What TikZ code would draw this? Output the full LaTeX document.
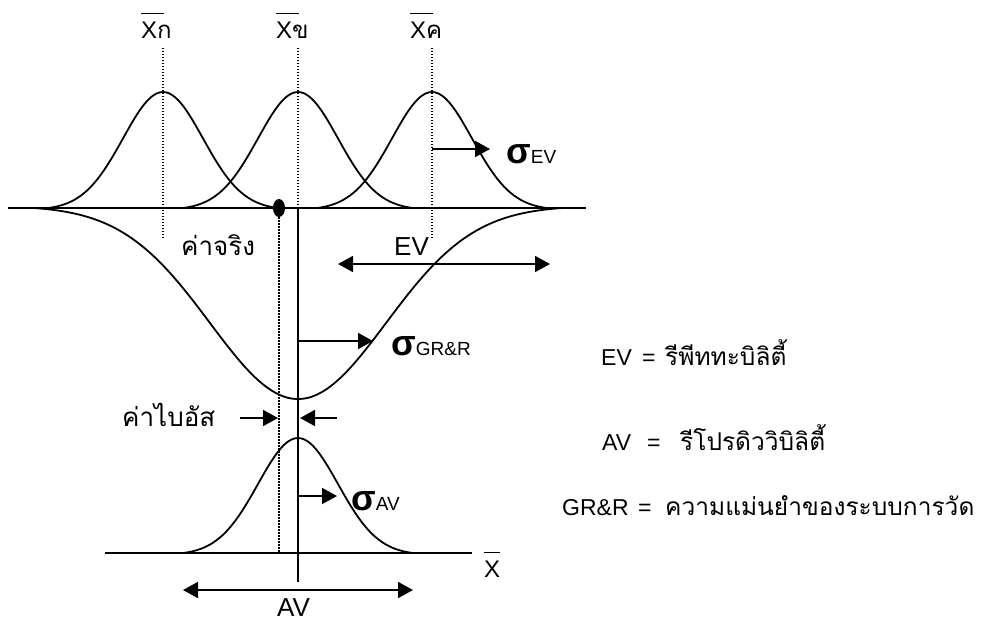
\documentclass[tikz,border=0pt]{standalone}
\usepackage{fontspec}
\setmainfont{Liberation Sans}
\newfontfamily\thai[Script=Thai]{Loma}
\usetikzlibrary{arrows.meta,shapes.geometric}
\newcommand\xbarred[1]{\leavevmode\rlap{\raisebox{1.0em}{\rule{#1}{1.4pt}}}X}
\begin{document}
\begin{tikzpicture}[x=1pt,y=-1pt,
  curve/.style={line width=1.8pt},
  axis/.style={line width=2pt},
  dots/.style={line width=1.4pt, dash pattern=on 1.4pt off 1.6pt},
  vline/.style={line width=1.8pt},
  arr/.style={line width=1.8pt,-{Triangle[length=15pt,width=16pt]}},
  darr/.style={line width=1.8pt,{Triangle[length=15pt,width=16pt]}-{Triangle[length=15pt,width=16pt]}},
  lbl/.style={inner sep=0pt, anchor=base west, font=\fontsize{26}{30}\selectfont},
  leg/.style={inner sep=0pt, anchor=base west, font=\fontsize{23}{28}\selectfont},
  legthai/.style={inner sep=0pt, anchor=base west, font=\fontsize{24.5}{30}\selectfont\thai},
  xlbl/.style={inner sep=0pt, anchor=base west, font=\fontsize{24}{28}\selectfont},
  sig/.style={inner sep=0pt, anchor=base west}]
\useasboundingbox (0,0) rectangle (981,622);
\newcommand\sigmalabel[1]{{\fontsize{36}{36}\selectfont\bfseries σ}{\fontsize{19}{19}\selectfont #1}}

% coordinates
\coordinate (topL) at (8,208);
\coordinate (topR) at (586,208);
\coordinate (botL) at (105,553);
\coordinate (botR) at (472,553);
\coordinate (d1t) at (163,48);
\coordinate (d1b) at (163,238);
\coordinate (d2t) at (298,48);
\coordinate (d2m) at (298,208);
\coordinate (d2b) at (298,582);
\coordinate (d3t) at (432,48);
\coordinate (d3b) at (432,238);
\coordinate (tb) at (279,553);

% axes
\draw[axis] (topL) -- (topR);
\draw[axis] (botL) -- (botR);

% small bell curves (top)
\foreach \c in {163,298,432}{
  \draw[curve] plot[domain=-2.875:2.875, samples=71, smooth]
    ({\c+40*\x}, {208-116*(exp(-\x*\x/2)-0.0164)/0.9836});
}
% big inverted curve
\draw[curve] plot[domain=-3:3, samples=91, smooth]
  ({298+88*\x}, {208+191*(exp(-\x*\x/2)-0.0111)/0.9889});
% bottom curve
\draw[curve] plot[domain=-2.875:2.875, samples=71, smooth]
  ({298+40*\x}, {553-115*(exp(-\x*\x/2)-0.0164)/0.9836});

% vertical lines
\draw[dots] (d1t) -- (d1b);
\draw[dots] (d2t) -- (d2m);
\draw[vline] (d2m) -- (d2b);
\draw[dots] (d3t) -- (d3b);

% true value dot
\node[ellipse, fill=black, minimum width=12pt, minimum height=18pt, inner sep=0pt] (dot) at (279,208) {};
\draw[dots] (dot.south) -- (tb);

% sigma EV
\coordinate (a1s) at (432,149);
\coordinate (a1e) at (490,149);
\draw[arr] (a1s) -- (a1e);
\node[sig] (sev) at (506,163) {\sigmalabel{EV}};

% EV range
\coordinate (evl) at (338,264);
\coordinate (evr) at (550,264);
\draw[darr] (evl) -- (evr);
\node[lbl] (evt) at (394,255) {EV};

% true value label
\node[lbl] (tv) at (181,255) {\thai ค่าจริง};

% sigma GR&R
\coordinate (a2s) at (298,341);
\coordinate (a2e) at (373,341);
\draw[arr] (a2s) -- (a2e);
\node[sig] (sgr) at (391,355) {\sigmalabel{GR\&R}};

% bias
\node[lbl] (bias) at (122,426) {\thai ค่าไบอัส};
\coordinate (b1s) at (240,418);
\coordinate (b1e) at (278,418);
\coordinate (b2s) at (337,418);
\coordinate (b2e) at (300,418);
\draw[arr] (b1s) -- (b1e);
\draw[arr] (b2s) -- (b2e);

% sigma AV
\coordinate (a3s) at (298,496);
\coordinate (a3e) at (337,496);
\draw[arr] (a3s) -- (a3e);
\node[sig] (sav) at (351,510) {\sigmalabel{AV}};

% AV range
\coordinate (avl) at (183,590);
\coordinate (avr) at (413,590);
\draw[darr] (avl) -- (avr);
\node[lbl] (avt) at (277,616) {AV};

% X-bar labels
\node[xlbl] (x1) at (141,38) {\xbarred{23pt}\thai ก};
\node[xlbl] (x2) at (276,38) {\xbarred{23pt}\thai ข};
\node[xlbl] (x3) at (410,38) {\xbarred{23pt}\thai ค};
\node[xlbl] (xb) at (484,577) {\xbarred{16pt}};

% legend
\node[leg] (l1a) at (601,365) {EV};
\node[leg] (l1b) at (642,365) {=};
\node[legthai] (l1c) at (665,365) {รีพีททะบิลิตี้};
\node[leg] (l2a) at (602,450) {AV};
\node[leg] (l2b) at (647,450) {=};
\node[legthai] (l2c) at (680,450) {รีโปรดิววิบิลิตี้};
\node[leg] (l3a) at (562,515) {GR\&R};
\node[leg] (l3b) at (638,515) {=};
\node[legthai] (l3c) at (665,515) {ความแม่นยำของระบบการวัด};
\end{tikzpicture}
\end{document}
